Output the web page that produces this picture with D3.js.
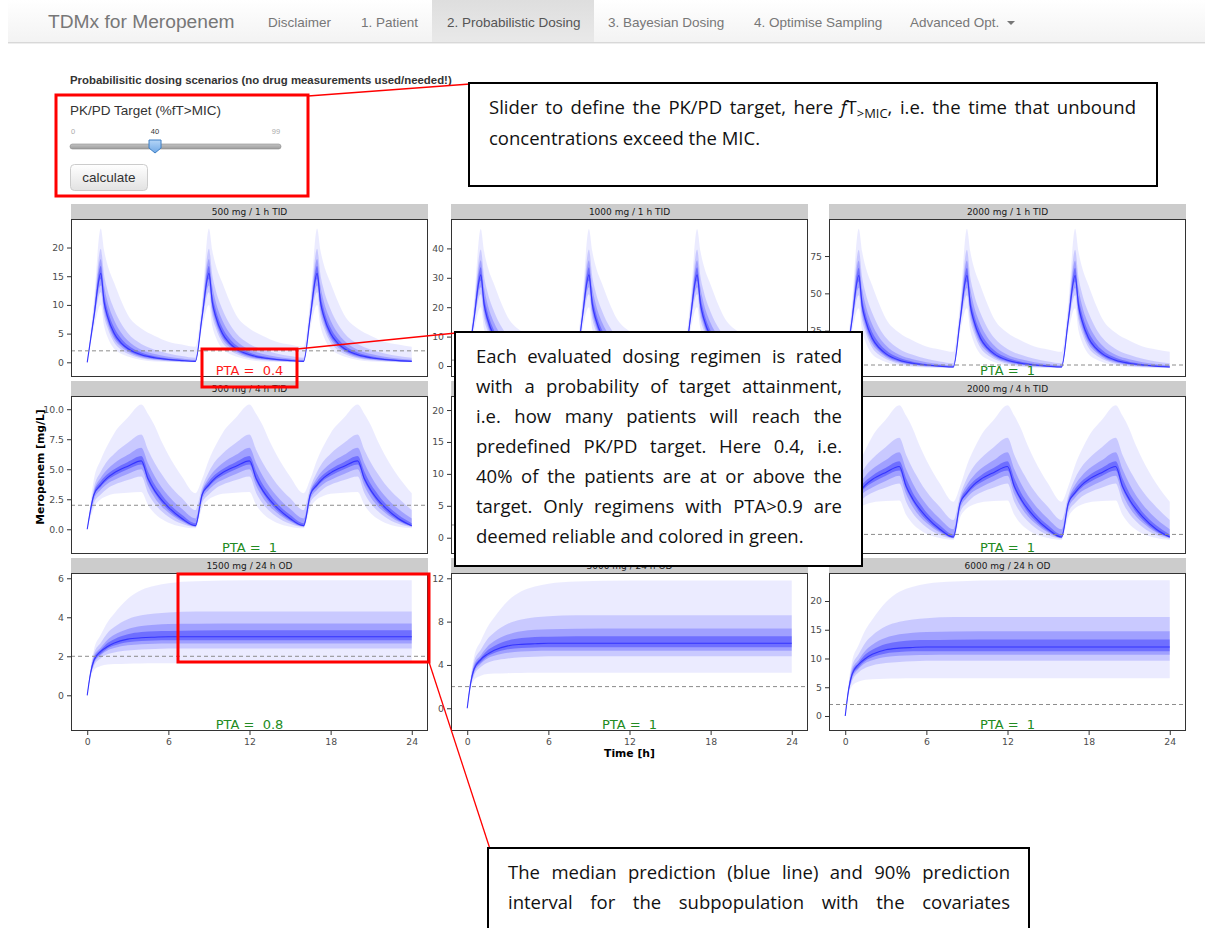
<!DOCTYPE html>
<html>
<head>
<meta charset="utf-8">
<script src="https://cdn.jsdelivr.net/npm/d3@7"></script>
<style>
body { margin: 0; background: #fff; }
svg { display: block; }
</style>
</head>
<body>
<script>
var width = 1205;
var height = 928;

// facets, in the order they are laid out
var regimens = ["500 mg / 1 h TID", "1000 mg / 1 h TID", "2000 mg / 1 h TID",
                "500 mg / 4 h TID", "1000 mg / 4 h TID", "2000 mg / 4 h TID",
                "1500 mg / 24 h OD", "3000 mg / 24 h OD", "6000 mg / 24 h OD"];
var doses = [500, 1000, 2000, 500, 1000, 2000, 1500, 3000, 6000];
var infusion = ["1h", "1h", "1h", "4h", "4h", "4h", "24h", "24h", "24h"];
var pta = [0.4, 1, 1, 1, 1, 1, 0.8, 1, 1];
var yLo = [-2.56, -3.74, -6.03, -2.06, -2.55, -4.0, -1.83, -2.1, -2.61];
var yHi = [24.97, 50.0, 99.8, 11.1, 22.2, 44.4, 6.27, 12.49, 24.87];
var yTicks = [[0, 5, 10, 15, 20], [0, 10, 20, 30, 40], [0, 25, 50, 75],
              [0, 2.5, 5, 7.5, 10], [0, 5, 10, 15, 20], [0, 10, 20, 30, 40],
              [0, 2, 4, 6], [0, 4, 8, 12], [0, 5, 10, 15, 20]];
var xTicks = [0, 6, 12, 18, 24];
var mic = 2;

// one dosing interval, 500 mg over 1 h (mg/L)
var t_1h   = [0, 0.5, 1, 1.25, 1.5, 2, 2.5, 3, 4, 5, 6, 7, 8];
var med_1h = [0, 8.0, 15.5, 10.5, 8.0, 5.0, 3.4, 2.4, 1.3, 0.8, 0.5, 0.3, 0.17];
var q05_1h = [0, 6.0, 10.0, 6.3, 4.4, 2.3, 1.5, 1.0, 0.4, 0.15, 0.06, 0.03, 0.01];
var q20_1h = [0, 7.0, 12.2, 8.0, 6.0, 3.4, 2.2, 1.5, 0.7, 0.35, 0.18, 0.09, 0.05];
var q30_1h = [0, 7.4, 13.4, 9.0, 6.8, 4.0, 2.7, 1.85, 0.9, 0.5, 0.28, 0.15, 0.09];
var q40_1h = [0, 7.8, 14.5, 9.8, 7.4, 4.5, 3.05, 2.1, 1.1, 0.64, 0.38, 0.22, 0.13];
var q60_1h = [0, 8.4, 16.8, 11.8, 9.2, 6.0, 4.2, 3.0, 1.7, 1.05, 0.68, 0.45, 0.27];
var q70_1h = [0, 8.9, 18.0, 13.3, 10.6, 7.3, 5.2, 3.8, 2.2, 1.45, 0.98, 0.68, 0.45];
var q80_1h = [0, 9.6, 19.8, 15.2, 12.6, 9.2, 6.8, 5.1, 3.2, 2.2, 1.55, 1.1, 0.8];
var q95_1h = [0, 11.0, 23.3, 19.5, 17.0, 13.8, 10.8, 8.3, 5.9, 4.6, 3.6, 3.1, 2.7];

// one dosing interval, 500 mg over 4 h
var t_4h   = [0, 0.5, 1, 1.5, 2, 3, 4, 4.5, 5, 5.5, 6, 7, 8];
var med_4h = [0, 2.9, 3.7, 4.3, 4.7, 5.25, 5.7, 4.2, 3.2, 2.45, 1.85, 0.9, 0.3];
var q05_4h = [0, 1.8, 2.5, 2.8, 2.95, 3.05, 3.1, 2.0, 1.3, 0.85, 0.55, 0.22, 0.08];
var q20_4h = [0, 2.2, 2.9, 3.4, 3.7, 4.1, 4.4, 3.0, 2.1, 1.5, 1.05, 0.45, 0.17];
var q30_4h = [0, 2.5, 3.3, 3.8, 4.1, 4.6, 5.0, 3.6, 2.6, 1.9, 1.4, 0.65, 0.23];
var q40_4h = [0, 2.75, 3.55, 4.1, 4.45, 5.0, 5.4, 4.0, 3.0, 2.2, 1.6, 0.75, 0.25];
var q60_4h = [0, 3.05, 4.0, 4.6, 5.0, 5.6, 6.1, 4.8, 3.7, 2.9, 2.2, 1.2, 0.5];
var q70_4h = [0, 3.2, 4.3, 5.0, 5.5, 6.2, 6.8, 5.5, 4.4, 3.5, 2.8, 1.7, 0.9];
var q80_4h = [0, 3.5, 4.8, 5.7, 6.3, 7.2, 7.9, 6.6, 5.5, 4.6, 3.8, 2.6, 1.6];
var q95_4h = [0, 4.2, 5.8, 7.0, 8.0, 9.3, 10.4, 9.6, 8.6, 7.3, 6.2, 4.4, 3.0];

// 1500 mg over 24 h
var t_24h   = [0, 0.25, 0.5, 1, 1.5, 2, 3, 4, 5, 6, 8, 12, 24];
var med_24h = [0, 1.15, 1.8, 2.25, 2.5, 2.68, 2.88, 2.95, 2.98, 3.0, 3.0, 3.0, 3.0];
var q05_24h = [0, 0.9, 1.3, 1.5, 1.58, 1.6, 1.62, 1.63, 1.64, 1.64, 1.64, 1.64, 1.64];
var q20_24h = [0, 1.0, 1.5, 1.9, 2.1, 2.2, 2.3, 2.35, 2.38, 2.4, 2.4, 2.4, 2.4];
var q30_24h = [0, 1.05, 1.6, 2.05, 2.3, 2.42, 2.56, 2.62, 2.64, 2.65, 2.66, 2.66, 2.66];
var q40_24h = [0, 1.08, 1.72, 2.12, 2.4, 2.55, 2.72, 2.78, 2.81, 2.82, 2.82, 2.82, 2.82];
var q60_24h = [0, 1.2, 1.9, 2.33, 2.68, 2.88, 3.13, 3.24, 3.29, 3.3, 3.32, 3.33, 3.33];
var q70_24h = [0, 1.26, 2.0, 2.45, 2.85, 3.1, 3.4, 3.55, 3.62, 3.65, 3.67, 3.68, 3.68];
var q80_24h = [0, 1.33, 2.15, 2.7, 3.2, 3.5, 3.9, 4.1, 4.2, 4.25, 4.3, 4.3, 4.3];
var q95_24h = [0, 1.45, 2.35, 3.1, 3.75, 4.2, 4.95, 5.4, 5.62, 5.75, 5.85, 5.9, 5.9];

var profiles = {
  "1h":  {base: 500,  starts: [0, 8, 16], t: t_1h, med: med_1h, q05: q05_1h, q20: q20_1h, q30: q30_1h, q40: q40_1h, q60: q60_1h, q70: q70_1h, q80: q80_1h, q95: q95_1h},
  "4h":  {base: 500,  starts: [0, 8, 16], t: t_4h, med: med_4h, q05: q05_4h, q20: q20_4h, q30: q30_4h, q40: q40_4h, q60: q60_4h, q70: q70_4h, q80: q80_4h, q95: q95_4h},
  "24h": {base: 1500, starts: [0], t: t_24h, med: med_24h, q05: q05_24h, q20: q20_24h, q30: q30_24h, q40: q40_24h, q60: q60_24h, q70: q70_24h, q80: q80_24h, q95: q95_24h}
};
var keys = ["med", "q05", "q20", "q30", "q40", "q60", "q70", "q80", "q95"];
var bands = [["q05", "q95"], ["q20", "q80"], ["q30", "q70"], ["q40", "q60"]];
var bandOpacity = [0.08, 0.14, 0.2, 0.3];

// layout
var colLeft = [71, 451, 829];
var rowTop = [219, 396, 573];
var plotW = 357, plotH = 158, stripH = 15;
var ggFont = "'DejaVu Sans', sans-serif";
var webFont = "'Liberation Sans', Arial, sans-serif";
var noteFont = "'Open Sans', 'Noto Sans', sans-serif";

var svg = d3.select("body").append("svg")
    .attr("width", width)
    .attr("height", height);
var defs = svg.append("defs");

function vGrad(id, c1, c2) {
    var gr = defs.append("linearGradient").attr("id", id)
        .attr("x1", 0).attr("y1", 0).attr("x2", 0).attr("y2", 1);
    gr.append("stop").attr("offset", "0%").attr("stop-color", c1);
    gr.append("stop").attr("offset", "100%").attr("stop-color", c2);
}
vGrad("navGrad", "#ffffff", "#f3f3f3");
vGrad("activeGrad", "#dedede", "#e9e9e9");
vGrad("btnGrad", "#ffffff", "#e2e2e2");
vGrad("trackGrad", "#c4c4c4", "#9c9c9c");
vGrad("handleGrad", "#b5d5f7", "#6fa8e6");

// ---------- navbar ----------
var nav = svg.append("g");
nav.append("rect").attr("x", 8).attr("y", 0).attr("width", width - 8).attr("height", 42)
    .attr("fill", "url(#navGrad)");
nav.append("rect").attr("x", 432).attr("y", 0).attr("width", 162).attr("height", 42)
    .attr("fill", "url(#activeGrad)");
nav.append("line").attr("x1", 8).attr("x2", width).attr("y1", 42.5).attr("y2", 42.5)
    .attr("stroke", "#d8d8d8");
nav.append("line").attr("x1", 8).attr("x2", width).attr("y1", 43.5).attr("y2", 43.5)
    .attr("stroke", "#eeeeee");
nav.append("text").attr("x", 48).attr("y", 28)
    .style("font-family", webFont).style("font-size", "19.2px").attr("fill", "#777")
    .text("TDMx for Meropenem");
var navItems = [["Disclaimer", 268], ["1. Patient", 361], ["2. Probabilistic Dosing", 447],
                ["3. Bayesian Dosing", 608], ["4. Optimise Sampling", 754], ["Advanced Opt.", 910]];
navItems.forEach(function(d, i) {
    nav.append("text").attr("x", d[1]).attr("y", 27)
        .style("font-family", webFont).style("font-size", "13.5px")
        .attr("fill", i === 2 ? "#555" : "#777")
        .text(d[0]);
});
nav.append("path").attr("d", "M1007,21 L1015,21 L1011,25 Z").attr("fill", "#777");

// ---------- input panel ----------
svg.append("text").attr("x", 70).attr("y", 84)
    .style("font-family", webFont).style("font-size", "11.4px").style("font-weight", "bold")
    .attr("fill", "#333")
    .text("Probabilisitic dosing scenarios (no drug measurements used/needed!)");
svg.append("text").attr("x", 70).attr("y", 115)
    .style("font-family", webFont).style("font-size", "13.5px").attr("fill", "#333")
    .text("PK/PD Target (%fT>MIC)");

var slider = d3.scaleLinear().domain([0, 99]).range([73, 276]);
[[0, "#aaa"], [40, "#333"], [99, "#aaa"]].forEach(function(d) {
    svg.append("text").attr("x", slider(d[0])).attr("y", 134).attr("text-anchor", "middle")
        .style("font-family", webFont).style("font-size", "7.5px").attr("fill", d[1])
        .text(d[0]);
});
svg.append("rect").attr("x", 70).attr("y", 144).attr("width", 211).attr("height", 5)
    .attr("rx", 2.5).attr("fill", "url(#trackGrad)").attr("stroke", "#8a8a8a").attr("stroke-width", 0.6);
var hx = slider(40);
svg.append("path")
    .attr("d", "M" + (hx - 6) + ",140 L" + (hx + 6) + ",140 L" + (hx + 6) + ",148 L" + hx + ",153 L" + (hx - 6) + ",148 Z")
    .attr("fill", "url(#handleGrad)").attr("stroke", "#3f7fc4").attr("stroke-width", 1);

svg.append("rect").attr("x", 70.5).attr("y", 164.5).attr("width", 77).attr("height", 26)
    .attr("rx", 4).attr("fill", "url(#btnGrad)").attr("stroke", "#cccccc");
svg.append("text").attr("x", 109).attr("y", 182).attr("text-anchor", "middle")
    .style("font-family", webFont).style("font-size", "13.5px").attr("fill", "#333")
    .text("calculate");

// ---------- facets ----------
function buildSeries(p, scale) {
    var pts = [];
    p.starts.forEach(function(s, k) {
        p.t.forEach(function(t, j) {
            if (k > 0 && j === 0) return;
            var d = {t: s + t};
            keys.forEach(function(key) { d[key] = p[key][j] * scale; });
            pts.push(d);
        });
    });
    return pts;
}

var plots = svg.append("g");

regimens.forEach(function(name, i) {
    var col = i % 3, row = Math.floor(i / 3);
    var L = colLeft[col], T = rowTop[row];
    var p = profiles[infusion[i]];
    var series = buildSeries(p, doses[i] / p.base);

    var x = d3.scaleLinear().domain([-1.2, 25.2]).range([L, L + plotW]);
    var y = d3.scaleLinear().domain([yLo[i], yHi[i]]).range([T + plotH, T]);

    var g = plots.append("g");

    // strip
    g.append("rect").attr("x", L).attr("y", T - stripH).attr("width", plotW).attr("height", stripH)
        .attr("fill", "#cccccc");
    g.append("text").attr("x", L + plotW / 2).attr("y", T - stripH / 2).attr("dy", "0.35em")
        .attr("text-anchor", "middle")
        .style("font-family", ggFont).style("font-size", "9px").attr("fill", "#1a1a1a")
        .text(name);

    g.append("rect").attr("x", L).attr("y", T).attr("width", plotW).attr("height", plotH)
        .attr("fill", "#fff");

    // prediction bands
    bands.forEach(function(b, k) {
        var area = d3.area()
            .x(function(d) { return x(d.t); })
            .y0(function(d) { return y(d[b[0]]); })
            .y1(function(d) { return y(d[b[1]]); })
            .curve(d3.curveMonotoneX);
        g.append("path").datum(series).attr("d", area)
            .attr("fill", "#0000ff").attr("fill-opacity", bandOpacity[k]);
    });

    // median
    var line = d3.line()
        .x(function(d) { return x(d.t); })
        .y(function(d) { return y(d.med); })
        .curve(d3.curveMonotoneX);
    g.append("path").datum(series).attr("d", line)
        .attr("fill", "none").attr("stroke", "#3535ff").attr("stroke-width", 1.1);

    // MIC target
    g.append("line").attr("x1", L).attr("x2", L + plotW).attr("y1", y(mic)).attr("y2", y(mic))
        .attr("stroke", "#8c8c8c").attr("stroke-width", 1).attr("stroke-dasharray", "4,3");

    g.append("text").attr("x", x(12)).attr("y", T + plotH - 2).attr("text-anchor", "middle")
        .style("font-family", ggFont).style("font-size", "13px").style("white-space", "pre")
        .attr("fill", pta[i] > 0.5 ? "#228b22" : "#ff1a1a")
        .text("PTA =  " + pta[i]);

    g.append("rect").attr("x", L + 0.5).attr("y", T + 0.5).attr("width", plotW - 1).attr("height", plotH - 1)
        .attr("fill", "none").attr("stroke", "#333").attr("stroke-width", 1);

    var fmt = yTicks[i].some(function(v) { return v % 1 !== 0; }) ? d3.format(".1f") : d3.format("d");
    var ya = g.append("g").attr("transform", "translate(" + L + ",0)")
        .call(d3.axisLeft(y).tickValues(yTicks[i]).tickFormat(fmt).tickSize(4).tickPadding(3));
    ya.select(".domain").remove();
    ya.selectAll("line").attr("stroke", "#333");
    ya.selectAll("text").style("font-family", ggFont).style("font-size", "9.3px").attr("fill", "#4d4d4d");

    if (row === 2) {
        var xa = g.append("g").attr("transform", "translate(0," + (T + plotH) + ")")
            .call(d3.axisBottom(x).tickValues(xTicks).tickSize(4).tickPadding(3));
        xa.select(".domain").remove();
        xa.selectAll("line").attr("stroke", "#333");
        xa.selectAll("text").style("font-family", ggFont).style("font-size", "9.3px").attr("fill", "#4d4d4d");
    }
});

svg.append("text").attr("x", colLeft[1] + plotW / 2).attr("y", 757).attr("text-anchor", "middle")
    .style("font-family", ggFont).style("font-size", "10.8px").style("font-weight", "bold")
    .text("Time [h]");
svg.append("text").attr("transform", "translate(44,467) rotate(-90)").attr("text-anchor", "middle")
    .style("font-family", ggFont).style("font-size", "10.8px").style("font-weight", "bold")
    .text("Meropenem [mg/L]");

// ---------- annotations ----------
var notes = svg.append("g");

function redLine(x1, y1, x2, y2) {
    notes.append("line").attr("x1", x1).attr("y1", y1).attr("x2", x2).attr("y2", y2)
        .attr("stroke", "#ff0000").attr("stroke-width", 1.3);
}
function redBox(x0, y0, w, h) {
    notes.append("rect").attr("x", x0).attr("y", y0).attr("width", w).attr("height", h)
        .attr("fill", "none").attr("stroke", "#ff0000").attr("stroke-width", 3);
}
function noteBox(x0, y0, w, h) {
    notes.append("rect").attr("x", x0).attr("y", y0).attr("width", w).attr("height", h)
        .attr("fill", "#fff").attr("stroke", "#000").attr("stroke-width", 2);
}

// lines of words; a word may be a list of pieces for italics / subscripts
function justify(lines, x0, x1, y0, lh, size, justifyLast) {
    lines.forEach(function(words, li) {
        var last = li === lines.length - 1 && !justifyLast;
        var texts = words.map(function(w) {
            var t = notes.append("text").attr("y", y0 + li * lh)
                .style("font-family", noteFont).style("font-size", size + "px").attr("fill", "#111");
            if (typeof w === "string") {
                t.text(w);
            } else {
                var shift = 0;
                w.forEach(function(s) {
                    var ts = t.append("tspan").text(s.s);
                    if (s.it) ts.style("font-style", "italic");
                    var want = s.sub ? 4 : 0;
                    if (want !== shift) { ts.attr("dy", want - shift); shift = want; }
                    if (s.sub) ts.style("font-size", (size * 0.7) + "px");
                });
            }
            return t;
        });
        var widths = texts.map(function(t) { return t.node().getComputedTextLength(); });
        var total = d3.sum(widths);
        var gap = last ? size * 0.26 : (x1 - x0 - total) / (words.length - 1);
        if (gap < size * 0.2) {
            // too long at this size: squeeze the glyphs a little
            var squeeze = (x1 - x0 - size * 0.2 * (words.length - 1)) / total;
            texts.forEach(function(t, k) { widths[k] *= squeeze; t.attr("textLength", widths[k]).attr("lengthAdjust", "spacingAndGlyphs"); });
            gap = size * 0.2;
        }
        var cx = x0;
        texts.forEach(function(t, k) { t.attr("x", cx); cx += widths[k] + gap; });
    });
}
function split(s) { return s.split(" "); }

var noteSize = 18.5;

redLine(308, 96, 470, 84);
redBox(56, 95, 252, 101);
noteBox(469, 83, 688, 103);
var line1 = split("Slider to define the PK/PD target, here");
line1.push([{s: "f", it: true}, {s: "T"}, {s: ">MIC", sub: true}, {s: ","}]);
line1 = line1.concat(split("i.e. the time that unbound"));
justify([line1, split("concentrations exceed the MIC.")], 489, 1136, 114, 31, noteSize, false);

redBox(202, 349, 95, 38);
redLine(297, 349, 456, 333);
noteBox(455, 332, 407, 234);
justify([
    split("Each evaluated dosing regimen is rated"),
    split("with a probability of target attainment,"),
    split("i.e. how many patients will reach the"),
    split("predefined PK/PD target. Here 0.4, i.e."),
    split("40% of the patients are at or above the"),
    split("target. Only regimens with PTA>0.9 are"),
    split("deemed reliable and colored in green.")
], 476, 842, 363, 30, noteSize, false);

redBox(178, 574, 251, 88);
redLine(429, 662, 490, 849);
noteBox(488, 848, 541, 100);
justify([
    split("The median prediction (blue line) and 90% prediction"),
    split("interval for the subpopulation with the covariates")
], 508, 1010, 879, 30, noteSize, true);
</script>
</body>
</html>
